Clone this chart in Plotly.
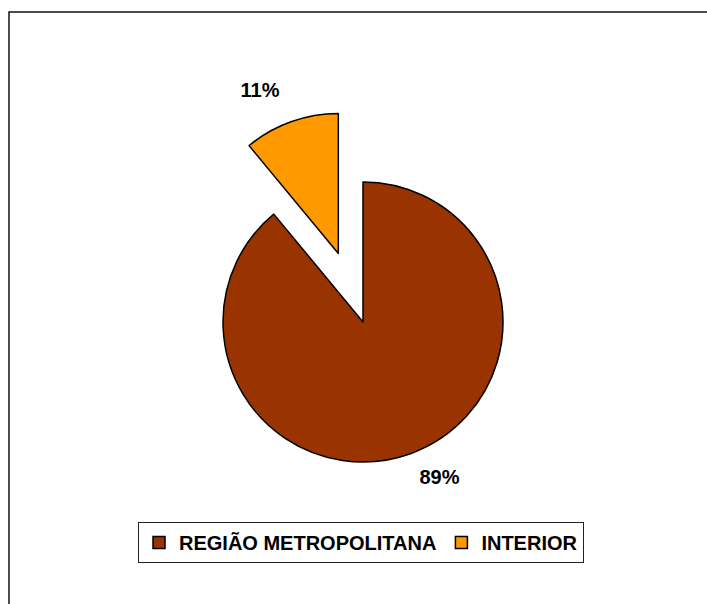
import plotly.graph_objects as go

labels = ["REGIÃO METROPOLITANA", "INTERIOR"]
values = [89, 11]
colors = ["#993300", "#FF9900"]
pulls = [0, 0.52]

W, H = 707, 604
cx, cy, r = 363, 322, 140
half = r * (1 + max(pulls))

# small spacer line pushes the outside labels a little further from the pie
spacer_below = "<span style='font-size:7px'>&nbsp;</span>"
spacer_above = "<span style='font-size:4px'>&nbsp;</span>"
templates = [spacer_below + "<br>%{percent:.0%}", "%{percent:.0%}<br>" + spacer_above]

fig = go.Figure(go.Pie(
    labels=labels,
    values=values,
    sort=False,
    direction="clockwise",
    rotation=0,
    pull=pulls,
    marker=dict(colors=colors, line=dict(color="black", width=1.5)),
    texttemplate=templates,
    textposition="outside",
    textfont=dict(family="Liberation Sans, Arial, sans-serif", size=20, color="black", weight="bold"),
    domain=dict(x=[(cx - half) / W, (cx + half) / W],
                y=[1 - (cy + half) / H, 1 - (cy - half) / H]),
    showlegend=True,
    hoverinfo="label+percent",
))

fig.add_shape(type="rect", xref="paper", yref="paper",
              x0=9 / W, x1=1.2, y0=-0.2, y1=1 - 12 / H,
              line=dict(color="#111111", width=1.5), fillcolor="rgba(0,0,0,0)", layer="below")

fig.update_layout(
    width=W, height=H,
    margin=dict(l=0, r=0, t=0, b=0, autoexpand=False),
    paper_bgcolor="white",
    plot_bgcolor="white",
    font=dict(family="Liberation Sans, Arial, sans-serif", color="black"),
    legend=dict(
        orientation="h",
        x=361 / W, xanchor="center",
        y=1 - 522 / H, yanchor="top",
        bordercolor="#222222", borderwidth=1,
        font=dict(size=20, color="black", weight="bold"),
        itemwidth=30,
        itemclick=False,
    ),
)

fig.write_html("out.html",
               config={"displayModeBar": False},
               post_script="document.body.style.margin='0';document.body.style.overflow='hidden';")
